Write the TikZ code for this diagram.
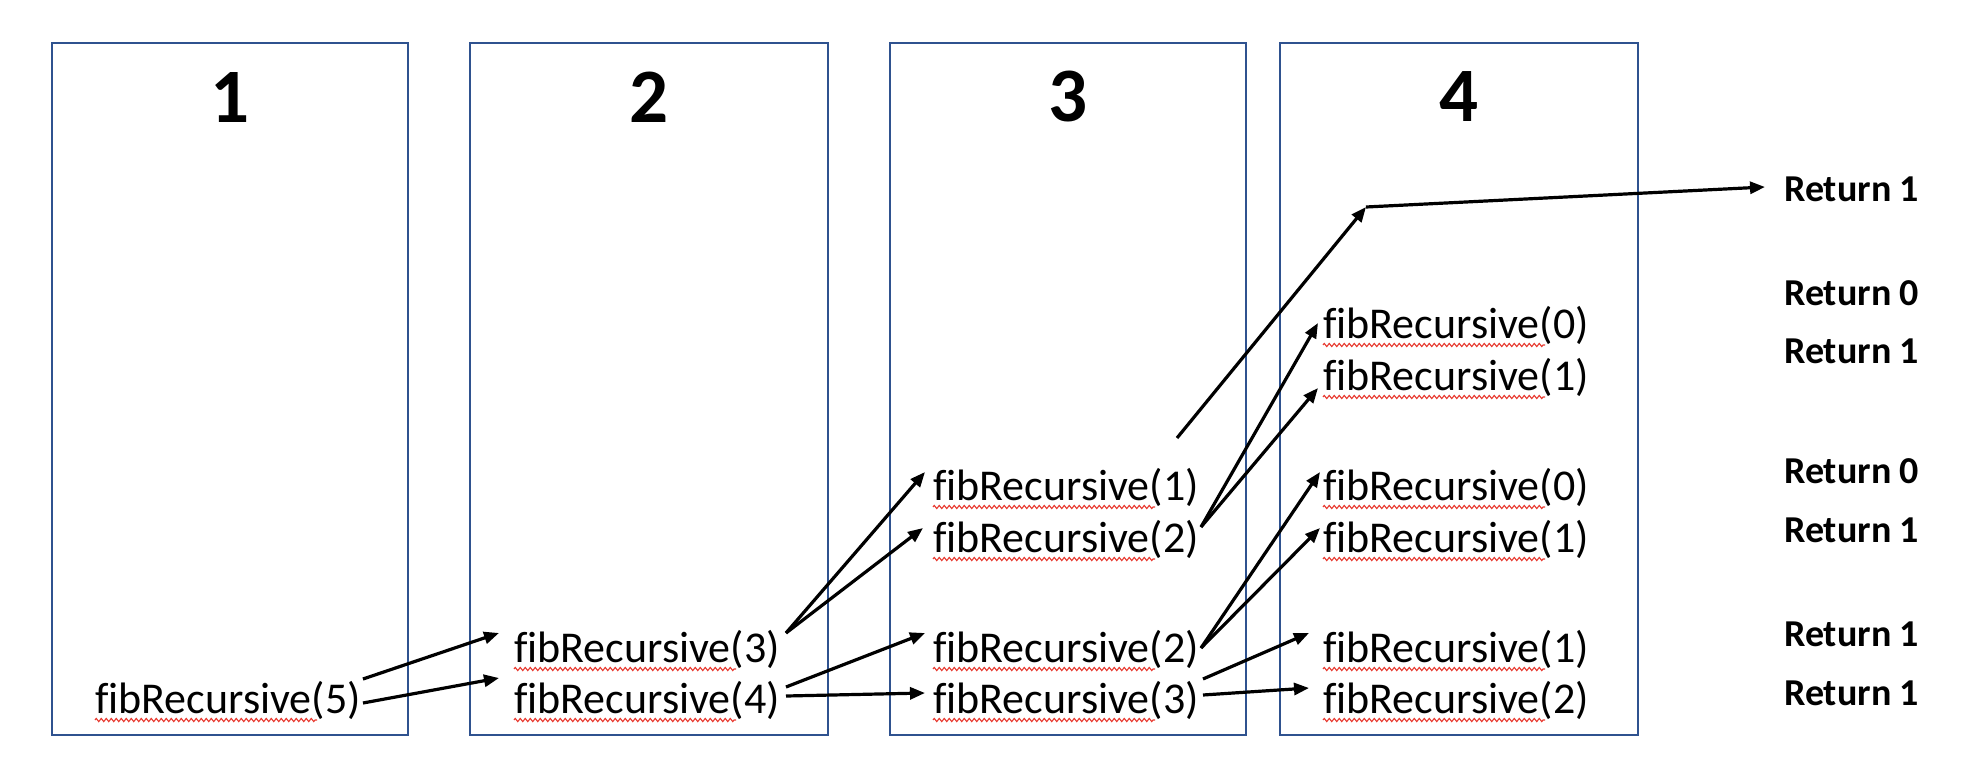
\documentclass[tikz,border=0pt]{standalone}
\usepackage{fontspec}
\setmainfont{Carlito}[Ligatures=NoCommon]
\usetikzlibrary{arrows.meta,decorations.pathmorphing}
\definecolor{frameblue}{RGB}{47,82,143}
\definecolor{squigred}{RGB}{232,60,50}
\begin{document}
\begin{tikzpicture}[x=1pt,y=-1pt,
  frame/.style={draw=frameblue,line width=1.6pt},
  num/.style={font=\fontsize{77}{90}\selectfont\bfseries,inner sep=0pt},
  fib/.style={font=\fontsize{44}{53}\selectfont,inner sep=0pt,anchor=base west},
  ret/.style={font=\fontsize{38}{46}\selectfont\bfseries,inner sep=0pt,anchor=base west},
  arr/.style={line width=3.2pt,-{Triangle[length=15pt,width=12pt]}},
  squig/.style={draw=squigred,line width=1.1pt,decorate,decoration={zigzag,segment length=5pt,amplitude=1.6pt}}]
\useasboundingbox (0,0) rectangle (1980,776);
% frames
\draw[frame] (52,43) rectangle (408,735);
\draw[frame] (470,43) rectangle (828,735);
\draw[frame] (890,43) rectangle (1246,735);
\draw[frame] (1280,43) rectangle (1638,735);
\node[num] (n1) at (230,97) {1};
\node[num] (n2) at (649,97) {2};
\node[num] (n3) at (1068,97) {3};
\node[num] (n4) at (1459,97) {4};
% calls
\node[fib] (f5) at (95,713) {fibRecursive(5)};
\node[fib] (c2a) at (514,662) {fibRecursive(3)};
\node[fib] (c2b) at (514,713) {fibRecursive(4)};
\node[fib] (c3a) at (933,500) {fibRecursive(1)};
\node[fib] (c3b) at (933,552) {fibRecursive(2)};
\node[fib] (c3c) at (933,662) {fibRecursive(2)};
\node[fib] (c3d) at (933,713) {fibRecursive(3)};
\node[fib] (c4a) at (1323,338) {fibRecursive(0)};
\node[fib] (c4b) at (1323,390) {fibRecursive(1)};
\node[fib] (c4c) at (1323,500) {fibRecursive(0)};
\node[fib] (c4d) at (1323,552) {fibRecursive(1)};
\node[fib] (c4e) at (1323,662) {fibRecursive(1)};
\node[fib] (c4f) at (1323,713) {fibRecursive(2)};
\foreach \n in {f5,c2a,c2b,c3a,c3b,c3c,c3d,c4a,c4b,c4c,c4d,c4e,c4f}
  \draw[squig] ([yshift=-7pt]\n.base west) -- ++(222,0);
% returns
\node[ret] (r1) at (1784,201) {Return 1};
\node[ret] (r2) at (1784,305) {Return 0};
\node[ret] (r3) at (1784,363) {Return 1};
\node[ret] (r4) at (1784,483) {Return 0};
\node[ret] (r5) at (1784,542) {Return 1};
\node[ret] (r6) at (1784,646) {Return 1};
\node[ret] (r7) at (1784,705) {Return 1};
% arrows
\draw[arr] ([shift={(2,-34)}]f5.base east) -- ([shift={(-15,-29)}]c2a.base west);
\draw[arr] ([shift={(2,-10)}]f5.base east) -- ([shift={(-15,-35)}]c2b.base west);
\draw[arr] ([shift={(6,-29)}]c2a.base east) -- ([shift={(-8,-28)}]c3a.base west);
\draw[arr] ([shift={(6,-29)}]c2a.base east) -- ([shift={(-10,-24)}]c3b.base west);
\draw[arr] ([shift={(6,-26)}]c2b.base east) -- ([shift={(-8,-29)}]c3c.base west);
\draw[arr] ([shift={(6,-17)}]c2b.base east) -- ([shift={(-8,-20)}]c3d.base west);
\draw[arr] ([shift={(2,-25)}]c3b.base east) -- ([shift={(-5,-15)}]c4a.base west);
\draw[arr] ([shift={(2,-25)}]c3b.base east) -- ([shift={(-5,-2)}]c4b.base west);
\draw[arr] ([shift={(2,-14)}]c3c.base east) -- ([shift={(-3,-28)}]c4c.base west);
\draw[arr] ([shift={(2,-14)}]c3c.base east) -- ([shift={(-3,-24)}]c4d.base west);
\draw[arr] ([shift={(4,-34)}]c3d.base east) -- ([shift={(-14,-29)}]c4e.base west);
\draw[arr] ([shift={(4,-18)}]c3d.base east) -- ([shift={(-14,-25)}]c4f.base west);
\coordinate (s0) at (1177,438);
\coordinate (s1) at (1366,207);
\draw[arr] (s0) -- (s1);
\draw[arr] (s1) -- ([shift={(-19,-14)}]r1.base west);
\end{tikzpicture}
\end{document}
